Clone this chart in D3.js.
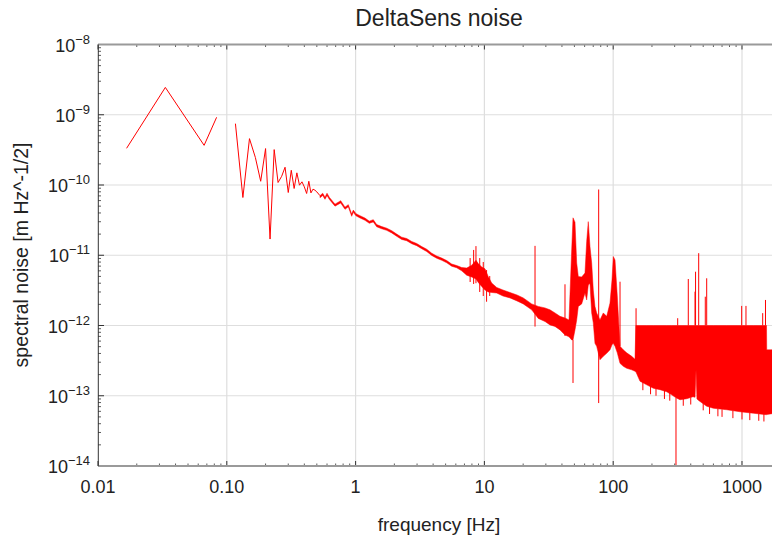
<!DOCTYPE html>
<html>
<head>
<meta charset="utf-8">
<script src="https://cdn.jsdelivr.net/npm/d3@7"></script>
<style>
  body { margin: 0; background: #fff; }
  svg text { font-family: "Liberation Sans", Arial, sans-serif; fill: #222; }
</style>
</head>
<body>
<svg id="chart" width="772" height="537"></svg>
<script>
// ---- data -------------------------------------------------------------
// first bins (0.0167 Hz resolution) before the missing 0.1 Hz bin
const lowFreq = [0.01667, 0.03333, 0.06667, 0.08333];
const lowAmp  = [3.33e-10, 2.45e-9, 3.67e-10, 9.19e-10];

// individual bins from 0.1167 Hz to 0.5 Hz
const lineFreq = [0.1167, 0.1333, 0.15, 0.1667, 0.1833, 0.2, 0.2167, 0.2333, 0.25, 0.2667,
                  0.2833, 0.3, 0.3167, 0.3333, 0.35, 0.3667, 0.3833, 0.4, 0.4167, 0.4333,
                  0.45, 0.4667, 0.4833, 0.5];
const lineAmp  = [7.47e-10, 6.64e-11, 4.57e-10, 2.46e-10, 1.13e-10, 3.30e-10, 1.70e-11, 3.19e-10, 1.085e-10, 1.33e-10,
                  1.79e-10, 7.82e-11, 1.62e-10, 8.92e-11, 1.49e-10, 9.94e-11, 1.11e-10, 9.40e-11, 7.57e-11, 1.13e-10,
                  7.72e-11, 8.72e-11, 8.44e-11, 7.98e-11];

// above 0.5 Hz the bins are dense: upper and lower envelope of the trace
const bandFreq = [0.529, 0.5555, 0.5786, 0.5998, 0.6248, 0.6919, 0.7663, 0.8275, 0.8777, 0.9326,
                  0.9596, 1.007, 1.082, 1.183, 1.278, 1.372, 1.458, 1.595, 1.744, 1.907,
                  2.085, 2.280, 2.493, 2.727, 2.981, 3.260, 3.565, 3.898, 4.264, 4.662,
                  5.098, 5.574, 6.095, 6.665, 7.288, 7.969, 8.604, 8.966, 9.528, 10.11,
                  10.72, 11.39, 12.46, 13.94, 15.81, 17.91, 20.04, 23.29, 26.22, 29.55,
                  32.31, 35.33, 38.64, 42.25, 45.38, 47.62, 48.75, 50.51, 52.07, 53.58,
                  56.93, 60.39, 62.25, 64.06, 66.04, 68.08, 70.05, 72.21, 74.44, 78.96,
                  83.77, 89.04, 94.46, 97.88, 100.2, 103.3, 107.6, 113.0, 119.8, 127.3,
                  139.2, 147.7, 150, 161.5, 182, 204.8, 230.9, 260.3, 284.6, 307.3,
                  330.1, 372.1, 416.6, 432, 439.5, 447, 463.6, 532.1, 598.7, 760.7,
                  964.9, 1224, 1550, 1556, 1710];
const bandHigh = [7.05e-11, 7.64e-11, 6.71e-11, 7.64e-11, 6.71e-11, 5.34e-11, 5.98e-11, 4.84e-11, 5.25e-11, 3.85e-11,
                  4.39e-11, 3.91e-11, 3.66e-11, 3.38e-11, 3.06e-11, 3.21e-11, 2.73e-11, 2.56e-11, 2.43e-11, 2.24e-11,
                  2.00e-11, 1.81e-11, 1.73e-11, 1.57e-11, 1.47e-11, 1.33e-11, 1.22e-11, 1.07e-11, 9.74e-12, 9.12e-12,
                  8.41e-12, 7.50e-12, 7.14e-12, 6.69e-12, 6.58e-12, 7.20e-12, 8.50e-12, 7.60e-12, 6.80e-12, 6.40e-12,
                  4.95e-12, 4.03e-12, 3.48e-12, 3.20e-12, 2.95e-12, 2.72e-12, 2.47e-12, 2.03e-12, 1.87e-12, 1.78e-12,
                  1.67e-12, 1.51e-12, 1.35e-12, 1.28e-12, 1.20e-12, 1.19e-11, 3.41e-11, 2.96e-11, 7.75e-12, 4.98e-12,
                  4.90e-12, 5.59e-12, 1.57e-11, 3.01e-11, 1.33e-11, 7.75e-12, 3.20e-12, 1.87e-12, 1.51e-12, 1.20e-12,
                  1.51e-12, 1.35e-12, 2.09e-12, 4.44e-12, 9.58e-12, 8.55e-12, 2.63e-12, 5.05e-13, 4.50e-13, 4.08e-13,
                  3.64e-13, 3.30e-13, 1e-12, 1e-12, 1e-12, 1e-12, 1e-12, 1e-12, 1e-12, 1e-12,
                  1e-12, 1e-12, 1e-12, 1e-12, 1e-12, 1e-12, 1e-12, 1e-12, 1e-12, 1e-12,
                  1e-12, 1e-12, 1e-12, 4.50e-13, 4.50e-13];
const bandLow  = [6.60e-11, 7.10e-11, 6.25e-11, 7.10e-11, 6.25e-11, 5.00e-11, 5.55e-11, 4.50e-11, 4.90e-11, 3.58e-11,
                  4.08e-11, 3.64e-11, 3.40e-11, 3.14e-11, 2.85e-11, 2.98e-11, 2.54e-11, 2.38e-11, 2.26e-11, 2.08e-11,
                  1.86e-11, 1.68e-11, 1.61e-11, 1.46e-11, 1.37e-11, 1.24e-11, 1.13e-11, 9.95e-12, 9.06e-12, 8.48e-12,
                  7.82e-12, 6.98e-12, 6.64e-12, 6.00e-12, 5.20e-12, 4.90e-12, 4.60e-12, 4.10e-12, 3.60e-12, 3.20e-12,
                  3.00e-12, 2.95e-12, 2.90e-12, 2.63e-12, 2.47e-12, 2.24e-12, 2.03e-12, 1.67e-12, 1.26e-12, 1.14e-12,
                  1.02e-12, 9.71e-13, 8.66e-13, 7.35e-13, 6.89e-13, 6.24e-13, 6.24e-13, 8.66e-13, 1.20e-12, 1.87e-12,
                  2.03e-12, 2.90e-12, 2.31e-12, 3.77e-12, 3.96e-12, 1.51e-12, 1.09e-12, 5.57e-13, 5.05e-13, 3.25e-13,
                  3.64e-13, 4.02e-13, 4.50e-13, 5.30e-13, 5.57e-13, 5.05e-13, 4.08e-13, 2.89e-13, 2.62e-13, 2.46e-13,
                  2.34e-13, 2.23e-13, 2.19e-13, 1.61e-13, 1.43e-13, 1.28e-13, 1.22e-13, 1.14e-13, 1.03e-13, 9.37e-14,
                  8.77e-14, 9.07e-14, 9.68e-14, 9.50e-14, 2.34e-13, 9.00e-14, 8.49e-14, 7.09e-14, 6.64e-14, 6.32e-14,
                  5.92e-14, 5.64e-14, 5.37e-14, 5.40e-14, 5.55e-14];

// narrow lines standing out of the envelope
const spikeFreq = [7.75, 8.25, 8.6, 9.2, 9.8, 10.4, 11.0,
                   24.72, 42.25, 48.75, 77.14, 113.0, 150.5, 307.3, 316.8, 382.9, 431.7,
                   436, 461.2, 518.9, 532.1, 994.7, 1074, 1448, 1522,
                   170, 195, 215, 250, 275, 350, 400, 500, 560, 650, 700, 850, 1000, 1150, 1350, 1480];
const spikeHigh = [9.12e-12, 1.19e-11, 1.35e-11, 9.12e-12, 8.01e-12, 6.16e-12, 5.06e-12,
                   1.36e-11, 3.86e-12, 6.24e-13, 8.63e-11, 4.20e-12, 1.76e-12, 9.37e-14, 1.27e-12, 4.59e-12, 3.03e-12,
                   5.83e-12, 1.07e-11, 2.57e-12, 4.70e-12, 1.90e-12, 1.90e-12, 1.50e-12, 2.31e-12,
                   1.60e-13, 1.40e-13, 1.30e-13, 1.20e-13, 1.10e-13, 9.0e-14, 9.5e-14, 8.0e-14, 7.0e-14, 6.6e-14,
                   6.4e-14, 6.2e-14, 6.0e-14, 5.8e-14, 5.6e-14, 5.5e-14];
const spikeLow  = [4.16e-12, 3.90e-12, 4.00e-12, 3.00e-12, 2.63e-12, 2.18e-12, 2.63e-12,
                   9.65e-13, 7.10e-13, 1.52e-13, 7.87e-14, 5.05e-13, 2.20e-13, 1e-14, 1e-12, 1e-12, 1e-12,
                   1e-12, 1e-12, 1e-12, 1e-12, 1e-12, 1e-12, 1e-12, 1e-12,
                   1.20e-13, 1.05e-13, 1.00e-13, 9.0e-14, 8.5e-14, 7.2e-14, 7.5e-14, 6.2e-14, 5.5e-14, 5.1e-14,
                   5.0e-14, 4.8e-14, 4.6e-14, 4.5e-14, 4.4e-14, 4.3e-14];

const xTickValues = [0.01, 0.1, 1, 10, 100, 1000];
const xTickLabels = ["0.01", "0.10", "1", "10", "100", "1000"];
const yTickExponents = [-8, -9, -10, -11, -12, -13, -14];

// ---- layout -----------------------------------------------------------
const svg = d3.select("#chart");
const plotLeft = 98, plotRight = 772, plotTop = 44.5, plotBottom = 466;

const x = d3.scaleLog().domain([0.01, 1710]).range([plotLeft, plotRight]);
const y = d3.scaleLog().domain([1e-14, 1e-8]).range([plotBottom, plotTop]);

svg.append("defs").append("clipPath").attr("id", "plotClip")
  .append("rect").attr("x", plotLeft).attr("y", plotTop)
  .attr("width", plotRight - plotLeft).attr("height", plotBottom - plotTop);

// grid
const grid = svg.append("g");
grid.selectAll("line.gx").data(xTickValues.slice(1)).join("line")
  .attr("x1", d => x(d)).attr("x2", d => x(d)).attr("y1", plotTop).attr("y2", plotBottom)
  .attr("stroke", "#dedede").attr("stroke-width", 1.2);
grid.selectAll("line.gy").data(yTickExponents.slice(1, -1)).join("line")
  .attr("x1", plotLeft).attr("x2", plotRight)
  .attr("y1", d => y(Math.pow(10, d))).attr("y2", d => y(Math.pow(10, d)))
  .attr("stroke", "#dedede").attr("stroke-width", 1.2);

// ---- trace ------------------------------------------------------------
const plot = svg.append("g").attr("clip-path", "url(#plotClip)");
const red = "#ff0000";

const lowRows = lowFreq.map((f, i) => ({ f, v: lowAmp[i] }));
plot.append("path").datum(lowRows)
  .attr("d", d3.line().x(d => x(d.f)).y(d => y(d.v)))
  .attr("fill", "none").attr("stroke", red).attr("stroke-width", 1);

const lineRows = lineFreq.map((f, i) => ({ f, v: lineAmp[i] }))
  .concat([{ f: bandFreq[0], v: bandHigh[0] }]);
plot.append("path").datum(lineRows)
  .attr("d", d3.line().x(d => x(d.f)).y(d => y(d.v)))
  .attr("fill", "none").attr("stroke", red).attr("stroke-width", 1);

const bandRows = bandFreq.map((f, i) => ({ f, hi: bandHigh[i], lo: bandLow[i] }));
plot.append("path").datum(bandRows)
  .attr("d", d3.area().x(d => x(d.f)).y0(d => y(d.lo)).y1(d => y(d.hi)))
  .attr("fill", red).attr("stroke", red).attr("stroke-width", 0.5).attr("stroke-linejoin", "round");

plot.selectAll("line.spike").data(spikeFreq.map((f, i) => ({ f, hi: spikeHigh[i], lo: spikeLow[i] })))
  .join("line")
  .attr("x1", d => x(d.f)).attr("x2", d => x(d.f))
  .attr("y1", d => y(d.hi)).attr("y2", d => y(d.lo))
  .attr("stroke", red).attr("stroke-width", 1);

// ---- frame, ticks -----------------------------------------------------
const axes = svg.append("g");
const minorX = [];
for (let e = -2; e <= 3; e++) for (let k = 2; k <= 9; k++) {
  const v = k * Math.pow(10, e);
  if (v < 1710) minorX.push(v);
}
const minorY = [];
for (let e = -14; e < -8; e++) for (let k = 2; k <= 9; k++) minorY.push(k * Math.pow(10, e));

const tickColor = "#333";
// bottom and top ticks, pointing into the plot
[[plotBottom, -1], [plotTop, 1]].forEach(([yy, dir]) => {
  axes.append("g").selectAll("line").data(minorX).join("line")
    .attr("x1", d => x(d)).attr("x2", d => x(d)).attr("y1", yy).attr("y2", yy + dir * 2.5)
    .attr("stroke", tickColor).attr("stroke-width", 0.8);
  axes.append("g").selectAll("line").data(xTickValues).join("line")
    .attr("x1", d => x(d)).attr("x2", d => x(d)).attr("y1", yy).attr("y2", yy + dir * 5)
    .attr("stroke", tickColor).attr("stroke-width", 1);
});
// left ticks
axes.append("g").selectAll("line").data(minorY).join("line")
  .attr("x1", plotLeft).attr("x2", plotLeft + 3).attr("y1", d => y(d)).attr("y2", d => y(d))
  .attr("stroke", tickColor).attr("stroke-width", 0.8);
axes.append("g").selectAll("line").data(yTickExponents).join("line")
  .attr("x1", plotLeft).attr("x2", plotLeft + 6)
  .attr("y1", d => y(Math.pow(10, d))).attr("y2", d => y(Math.pow(10, d)))
  .attr("stroke", tickColor).attr("stroke-width", 1);

// frame lines
axes.append("line").attr("x1", plotLeft).attr("x2", plotRight).attr("y1", plotTop).attr("y2", plotTop)
  .attr("stroke", "#9a9a9a").attr("stroke-width", 2);
axes.append("line").attr("x1", plotLeft).attr("x2", plotRight).attr("y1", plotBottom).attr("y2", plotBottom)
  .attr("stroke", "#9a9a9a").attr("stroke-width", 2);
axes.append("line").attr("x1", plotLeft + 0.3).attr("x2", plotLeft + 0.3).attr("y1", plotTop).attr("y2", plotBottom)
  .attr("stroke", "#333").attr("stroke-width", 1);

// tick labels
svg.append("g").selectAll("text").data(xTickValues).join("text")
  .attr("x", d => x(d)).attr("y", 493).attr("text-anchor", "middle")
  .attr("font-size", 18).text((d, i) => xTickLabels[i]);

const yt = svg.append("g").selectAll("text").data(yTickExponents).join("text")
  .attr("x", 90).attr("y", d => y(Math.pow(10, d)) + 7).attr("text-anchor", "end")
  .attr("font-size", 18);
yt.append("tspan").text("10");
yt.append("tspan").attr("dy", -8).attr("font-size", 13).text(d => "\u2212" + Math.abs(d));

// titles
svg.append("text").attr("x", 439).attr("y", 26).attr("text-anchor", "middle")
  .attr("font-size", 23).text("DeltaSens noise");
svg.append("text").attr("x", 439).attr("y", 531).attr("text-anchor", "middle")
  .attr("font-size", 19).text("frequency [Hz]");
svg.append("text").attr("transform", "translate(28,255) rotate(-90)").attr("text-anchor", "middle")
  .attr("font-size", 19.5).text("spectral noise [m Hz^-1/2]");
</script>
</body>
</html>
